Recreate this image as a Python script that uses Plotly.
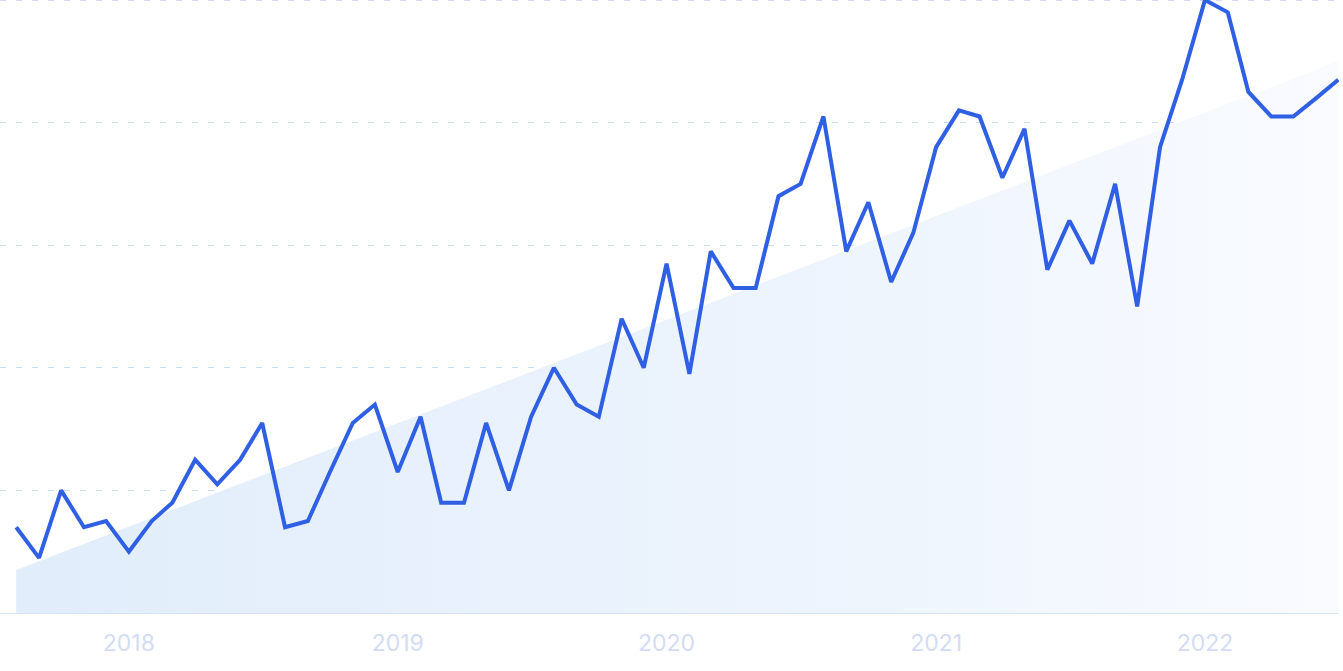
import plotly.graph_objects as go
import pandas as pd

# Monthly data, Aug 2017 - Jul 2022
dates = pd.date_range("2017-08-01", periods=60, freq="MS")
values = [14, 9, 20, 14, 15, 10, 15, 18, 25, 21, 25, 31,
          14, 15, 23, 31, 34, 23, 32, 18, 18, 31, 20, 32,
          40, 34, 32, 48, 40, 57, 39, 59, 53, 53, 68, 70,
          81, 59, 67, 54, 62, 76, 82, 81, 71, 79, 56, 64,
          57, 70, 50, 76, 87, 100, 98, 85, 81, 81, 84, 87]

# Trend line (start, end)
trend_dates = [dates[0], dates[-1]]
trend_values = [7, 90]

tick_dates = ["2018-01-01", "2019-01-01", "2020-01-01", "2021-01-01", "2022-01-01"]
tick_labels = ["2018", "2019", "2020", "2021", "2022"]
grid_values = [20, 40, 60, 80, 100]

fig = go.Figure()

fig.add_trace(go.Scatter(
    x=trend_dates, y=trend_values, mode="lines",
    line=dict(width=0, color="rgba(0,0,0,0)"),
    fill="tozeroy",
    fillgradient=dict(type="horizontal",
                      colorscale=[[0, "#e1edfb"], [0.6, "#edf4fd"], [1, "#f9fbff"]]),
    hoverinfo="skip", showlegend=False,
))

fig.add_trace(go.Scatter(
    x=dates, y=values, mode="lines",
    line=dict(color="#2f5fe3", width=4),
    showlegend=False,
))

fig.update_layout(
    width=1343, height=671,
    margin=dict(l=0, r=4, t=0, b=58),
    paper_bgcolor="white", plot_bgcolor="white",
    font=dict(family="Inter, sans-serif"),
)

# top gridline (at plot edge) drawn as a shape
fig.add_shape(type="line", xref="paper", yref="y", x0=0, x1=1,
              y0=grid_values[-1], y1=grid_values[-1], layer="below",
              line=dict(color="#d2dcfa", width=2, dash="6px,10px"))

fig.update_xaxes(
    range=["2017-07-10", "2022-07-02"],
    tickvals=tick_dates, ticktext=tick_labels,
    tickfont=dict(size=23, color="#d3dcf5"),
    showgrid=False, zeroline=False,
    showline=True, linecolor="#d6e2f8", linewidth=1,
    ticks="", ticklabelstandoff=9,
)

fig.update_yaxes(
    range=[0, 100],
    tickvals=grid_values,
    showticklabels=False,
    showgrid=True, gridcolor="#c6e0fb", gridwidth=1, griddash="6px,10px",
    zeroline=False,
)

fig.write_html("out.html", config={"displayModeBar": False},
               post_script="document.body.style.margin='0';")
